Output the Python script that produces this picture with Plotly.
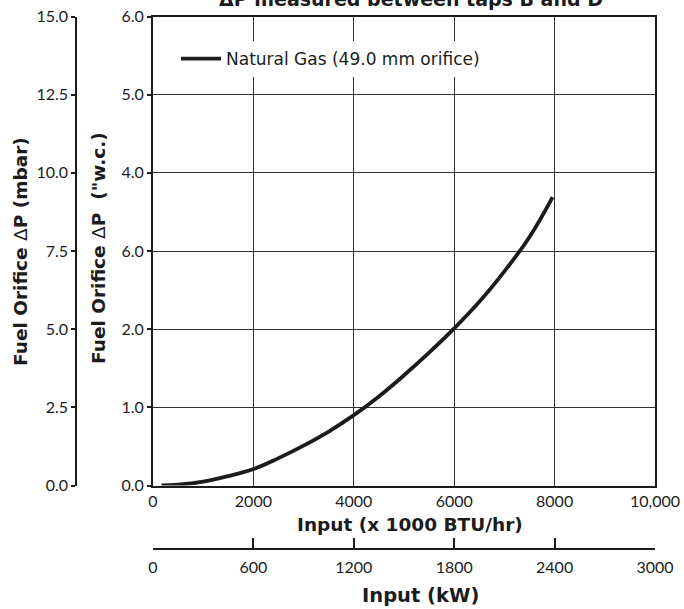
import plotly.graph_objects as go

# ---- data ----
btu_input = [170, 500, 1000, 1500, 2000, 2500, 3000, 3500, 4000, 4500, 5000, 5500, 6000, 6500, 7000, 7500, 7960]
dp_wc = [0.0, 0.01, 0.05, 0.12, 0.21, 0.35, 0.51, 0.69, 0.90, 1.14, 1.41, 1.70, 2.01, 2.35, 2.74, 3.18, 3.69]

btu_ticks = [0, 2000, 4000, 6000, 8000, 10000]
btu_ticktext = ["0", "2000", "4000", "6000", "8000", "10,000"]
kw_ticks = [0, 600, 1200, 1800, 2400, 3000]
kw_ticktext = ["0", "600", "1200", "1800", "2400", "3000"]
wc_ticks = [0, 1, 2, 3, 4, 5, 6]
wc_ticktext = ["0.0", "1.0", "2.0", "6.0", "4.0", "5.0", "6.0"]
mbar_ticks = [0, 2.5, 5.0, 7.5, 10.0, 12.5, 15.0]
mbar_ticktext = ["0.0", "2.5", "5.0", "7.5", "10.0", "12.5", "15.0"]

series_name = "Natural Gas (49.0 mm orifice)"

W, H = 684, 609
TICK_FONT = "Lato"
TITLE_FONT = "DejaVu Sans"
INK = "#1c1c1c"

def px_x(v):
    return v / W

def px_y(v):
    return (H - v) / H

x_dom = [px_x(153), px_x(655)]
y_dom = [px_y(485.5), px_y(16.5)]

fig = go.Figure()
fig.add_trace(go.Scatter(
    x=btu_input, y=dp_wc, mode="lines", name=series_name,
    line=dict(color=INK, width=3.8, shape="spline", smoothing=1.2),
    xaxis="x", yaxis="y", showlegend=True,
))
# helper traces so the secondary axes are drawn
fig.add_trace(go.Scatter(x=kw_ticks, y=[None] * len(kw_ticks), mode="lines",
                         xaxis="x2", yaxis="y", showlegend=False, hoverinfo="skip"))
fig.add_trace(go.Scatter(x=btu_ticks, y=[None] * len(btu_ticks), mode="lines",
                         xaxis="x", yaxis="y2", showlegend=False, hoverinfo="skip"))

tickfont = dict(family=TICK_FONT, size=16, color=INK)

fig.update_layout(
    width=W, height=H,
    margin=dict(l=0, r=0, t=0, b=0),
    paper_bgcolor="white", plot_bgcolor="white",
    font=dict(family=TICK_FONT, color=INK),
    xaxis=dict(
        domain=x_dom, range=[0, 10000], anchor="y",
        tickvals=btu_ticks, ticktext=btu_ticktext, tickfont=tickfont,
        ticks="", showgrid=True, gridcolor="#333", gridwidth=1,
        showline=True, linecolor=INK, linewidth=2, mirror=True,
        zeroline=False, automargin=False,
    ),
    xaxis2=dict(
        domain=x_dom, range=[0, 3000], overlaying="x", anchor="free",
        position=px_y(549), side="bottom",
        tickvals=kw_ticks, ticktext=kw_ticktext, tickfont=tickfont,
        ticks="inside", ticklen=10, tickwidth=2, tickcolor=INK,
        showgrid=False, showline=True, linecolor=INK, linewidth=2,
        zeroline=False, automargin=False, ticklabelstandoff=4,
    ),
    yaxis=dict(
        domain=y_dom, range=[0, 6], anchor="x",
        tickvals=wc_ticks, ticktext=wc_ticktext, tickfont=tickfont,
        ticks="outside", ticklen=4, tickwidth=1.5, tickcolor=INK,
        showgrid=True, gridcolor="#333", gridwidth=1,
        showline=True, linecolor=INK, linewidth=2, mirror=True,
        zeroline=False, automargin=False,
    ),
    yaxis2=dict(
        domain=y_dom, range=[0, 15], overlaying="y", anchor="free",
        position=px_x(76), side="left",
        tickvals=mbar_ticks, ticktext=mbar_ticktext, tickfont=tickfont,
        ticks="outside", ticklen=4, tickwidth=1.5, tickcolor=INK,
        showgrid=False, showline=True, linecolor=INK, linewidth=1.5,
        zeroline=False, automargin=False,
    ),
    legend=dict(
        x=px_x(176), y=px_y(59), xanchor="left", yanchor="middle",
        bgcolor="white", borderwidth=0,
        font=dict(family=TITLE_FONT, size=17, color=INK),
        itemwidth=40, tracegroupgap=0,
    ),
    showlegend=True,
)

title_font = dict(family=TITLE_FONT, size=18.5, color=INK, weight="bold")
annotations = [
    dict(text="Fuel Orifice <span style='font-weight:normal'>Δ</span>P (mbar)",
         x=px_x(20), y=px_y(252), textangle=-90, font=title_font),
    dict(text="Fuel Orifice <span style='font-weight:normal'>Δ</span>P\u00a0 (\"w.c.)",
         x=px_x(99), y=px_y(248), textangle=-90, font=title_font),
    dict(text="Input (x 1000 BTU/hr)", x=px_x(410), y=px_y(524), font=title_font),
    dict(text="Input (kW)", x=px_x(421), y=px_y(595),
         font=dict(family=TITLE_FONT, size=19.5, color=INK, weight="bold")),
    dict(text="ΔP measured between taps B and D", x=px_x(411), y=px_y(-1),
         font=dict(family=TITLE_FONT, size=19, color=INK, weight="bold")),
]
for a in annotations:
    a.update(xref="paper", yref="paper", showarrow=False, xanchor="center", yanchor="middle")
fig.update_layout(annotations=annotations)

fig.write_html("out.html", config={"displayModeBar": False},
               post_script="document.body.style.margin='0';document.body.style.overflow='hidden';")
